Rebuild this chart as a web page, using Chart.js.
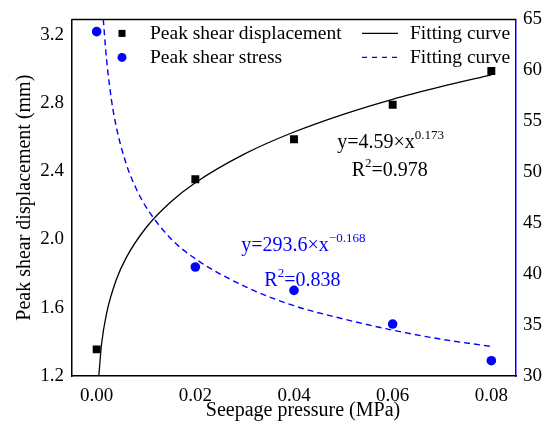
<!DOCTYPE html>
<html>
<head>
<meta charset="utf-8">
<script src="https://cdn.jsdelivr.net/npm/chart.js@4.4.1/dist/chart.umd.min.js"></script>
<style>
    html, body { margin: 0; padding: 0; background: #fff; }
    #wrap { width: 546px; height: 425px; }
</style>
</head>
<body>
<div id="wrap"><canvas id="chart" width="546" height="425"></canvas></div>
<script>
// Datos
const pressure = [0, 0.02, 0.04, 0.06, 0.08];
const displacement = [1.356, 2.353, 2.588, 2.79, 2.988];
const stress = [63.8, 40.7, 38.4, 35.1, 31.5];

const fitDispX = [0.00043, 0.001, 0.002, 0.004, 0.006, 0.01, 0.015, 0.02, 0.03, 0.04, 0.05, 0.06, 0.07, 0.08];
const fitDispY = [1.20, 1.389, 1.566, 1.766, 1.894, 2.069, 2.22, 2.333, 2.502, 2.63, 2.734, 2.822, 2.897, 2.965];

const fitStressX = [0.00134, 0.002, 0.003, 0.004, 0.006, 0.008, 0.01, 0.015, 0.02, 0.03, 0.04, 0.05, 0.06, 0.07, 0.08];
const fitStressY = [65.0, 61.1, 57.1, 54.4, 50.8, 48.4, 46.6, 43.5, 41.5, 38.8, 36.9, 35.6, 34.5, 33.6, 32.9];

const xTicks = [0, 0.02, 0.04, 0.06, 0.08];
const leftTicks = [1.2, 1.6, 2.0, 2.4, 2.8, 3.2];

const FONT = '"Liberation Serif", "Times New Roman", serif';
const BLUE = '#0000ff';

const toPoints = (xs, ys) => xs.map((x, i) => ({ x: x, y: ys[i] }));

// Ecuaciones de ajuste (anclas en unidades de datos)
const notes = [
    { base: 'y=4.59\u00d7x', sup: '0.173', tail: '', x: 0.0596, y: 2.536, axis: 'y', color: '#000' },
    { base: 'R', sup: '2', tail: '=0.978', x: 0.0594, y: 2.373, axis: 'y', color: '#000' },
    { base: 'y=293.6\u00d7x', sup: '\u22120.168', tail: '', x: 0.0419, y: 42.3, axis: 'y1', color: BLUE },
    { base: 'R', sup: '2', tail: '=0.838', x: 0.0417, y: 38.8, axis: 'y1', color: BLUE }
];

// Marco superior y título del eje X
const framePlugin = {
    id: 'frame',
    afterDraw(chart) {
        const { ctx, chartArea } = chart;
        ctx.save();
        ctx.strokeStyle = '#000';
        ctx.lineWidth = 1.5;
        ctx.beginPath();
        ctx.moveTo(chartArea.left, chartArea.top);
        ctx.lineTo(chartArea.right, chartArea.top);
        ctx.stroke();

        ctx.fillStyle = '#000';
        ctx.font = '20px ' + FONT;
        ctx.textAlign = 'center';
        ctx.textBaseline = 'alphabetic';
        ctx.fillText('Seepage pressure (MPa)', (chartArea.left + chartArea.right) / 2 + 9, chartArea.bottom + 40);
        ctx.restore();
    }
};

// Ecuaciones con superíndices
const notesPlugin = {
    id: 'notes',
    afterDatasetsDraw(chart) {
        const ctx = chart.ctx;
        const xs = chart.scales.x;
        ctx.save();
        ctx.textBaseline = 'alphabetic';
        ctx.textAlign = 'left';
        notes.forEach(n => {
            const big = '20px ' + FONT;
            const small = '13px ' + FONT;
            ctx.font = big;
            const wBase = ctx.measureText(n.base).width;
            const wTail = ctx.measureText(n.tail).width;
            ctx.font = small;
            const wSup = ctx.measureText(n.sup).width;
            const total = wBase + wSup + wTail;
            let px = xs.getPixelForValue(n.x) - total / 2;
            const py = chart.scales[n.axis].getPixelForValue(n.y);
            ctx.fillStyle = n.color;
            ctx.font = big;
            ctx.fillText(n.base, px, py);
            px += wBase;
            ctx.font = small;
            ctx.fillText(n.sup, px, py - 9);
            px += wSup;
            ctx.font = big;
            ctx.fillText(n.tail, px, py);
        });
        ctx.restore();
    }
};

// Leyenda en dos columnas dentro del área del gráfico
const legendPlugin = {
    id: 'twoColLegend',
    afterDatasetsDraw(chart) {
        const { ctx, chartArea } = chart;
        const ds = chart.data.datasets;
        const rows = [chartArea.top + 14, chartArea.top + 38];
        ctx.save();
        ctx.font = '19.5px ' + FONT;
        ctx.textBaseline = 'middle';
        ctx.textAlign = 'left';
        ctx.fillStyle = '#000';

        // columna 1: marcadores
        const mx = chartArea.left + 50;
        ctx.fillStyle = '#000';
        ctx.fillRect(mx - 3.5, rows[0] - 3.5, 7, 7);
        ctx.fillText(ds[0].label, chartArea.left + 78, rows[0]);
        ctx.fillStyle = BLUE;
        ctx.beginPath();
        ctx.arc(mx, rows[1], 4.5, 0, Math.PI * 2);
        ctx.fill();
        ctx.fillStyle = '#000';
        ctx.fillText(ds[1].label, chartArea.left + 78, rows[1]);

        // columna 2: curvas
        const lx0 = chartArea.left + 290, lx1 = chartArea.left + 326;
        ctx.lineWidth = 1.3;
        ctx.strokeStyle = '#000';
        ctx.beginPath();
        ctx.moveTo(lx0, rows[0]);
        ctx.lineTo(lx1, rows[0]);
        ctx.stroke();
        ctx.fillText(ds[2].label, chartArea.left + 338, rows[0]);
        ctx.strokeStyle = BLUE;
        ctx.setLineDash([5, 5]);
        ctx.beginPath();
        ctx.moveTo(lx0, rows[1]);
        ctx.lineTo(lx1 + 2, rows[1]);
        ctx.stroke();
        ctx.setLineDash([]);
        ctx.fillText(ds[3].label, chartArea.left + 338, rows[1]);
        ctx.restore();
    }
};

const ctx = document.getElementById('chart').getContext('2d');
const chart = new Chart(ctx, {
    type: 'scatter',
    data: {
        datasets: [
            {
                label: 'Peak shear displacement',
                data: toPoints(pressure, displacement),
                yAxisID: 'y',
                pointStyle: 'rect',
                pointRadius: 5.6,
                backgroundColor: '#000',
                borderColor: '#000',
                borderWidth: 0,
                showLine: false
            },
            {
                label: 'Peak shear stress',
                data: toPoints(pressure, stress),
                yAxisID: 'y1',
                pointStyle: 'circle',
                pointRadius: 4.8,
                backgroundColor: BLUE,
                borderColor: BLUE,
                borderWidth: 0,
                showLine: false
            },
            {
                label: 'Fitting curve',
                data: toPoints(fitDispX, fitDispY),
                yAxisID: 'y',
                showLine: true,
                pointRadius: 0,
                borderColor: '#000',
                borderWidth: 1.3,
                cubicInterpolationMode: 'monotone',
                fill: false
            },
            {
                label: 'Fitting curve',
                data: toPoints(fitStressX, fitStressY),
                yAxisID: 'y1',
                showLine: true,
                pointRadius: 0,
                borderColor: BLUE,
                borderWidth: 1.4,
                borderDash: [6, 4],
                cubicInterpolationMode: 'monotone',
                fill: false
            }
        ]
    },
    options: {
        responsive: false,
        animation: false,
        devicePixelRatio: 1,
        layout: { padding: { top: 18, left: 0, right: 0, bottom: 0 } },
        plugins: {
            legend: { display: false },
            tooltip: { enabled: false }
        },
        scales: {
            x: {
                type: 'linear',
                min: -0.005,
                max: 0.085,
                grid: { display: false, drawTicks: false },
                border: { display: true, color: '#000', width: 1.5 },
                afterBuildTicks: s => { s.ticks = xTicks.map(v => ({ value: v })); },
                afterFit: s => { s.height = 49; },
                ticks: {
                    padding: 9,
                    color: '#000',
                    font: { family: FONT, size: 19 },
                    callback: v => v.toFixed(2)
                },
                title: { display: false }
            },
            y: {
                type: 'linear',
                position: 'left',
                min: 1.2,
                max: 3.29,
                grid: { display: false, drawTicks: false },
                border: { display: true, color: '#000', width: 1.5 },
                afterBuildTicks: s => { s.ticks = leftTicks.map(v => ({ value: v })); },
                afterFit: s => { s.width = 72; },
                ticks: {
                    padding: 8,
                    color: '#000',
                    font: { family: FONT, size: 19 },
                    callback: v => v.toFixed(1)
                },
                title: {
                    display: true,
                    text: 'Peak shear displacement (mm)',
                    color: '#000',
                    font: { family: FONT, size: 20 },
                    padding: { top: 13, bottom: 0 }
                }
            },
            y1: {
                type: 'linear',
                position: 'right',
                min: 30,
                max: 65,
                grid: { display: false, drawTicks: false },
                border: { display: true, color: BLUE, width: 1.5 },
                afterFit: s => { s.width = 30; },
                ticks: {
                    stepSize: 5,
                    padding: 7,
                    color: '#000',
                    font: { family: FONT, size: 19 }
                }
            }
        }
    },
    plugins: [framePlugin, notesPlugin, legendPlugin]
});
</script>
</body>
</html>
